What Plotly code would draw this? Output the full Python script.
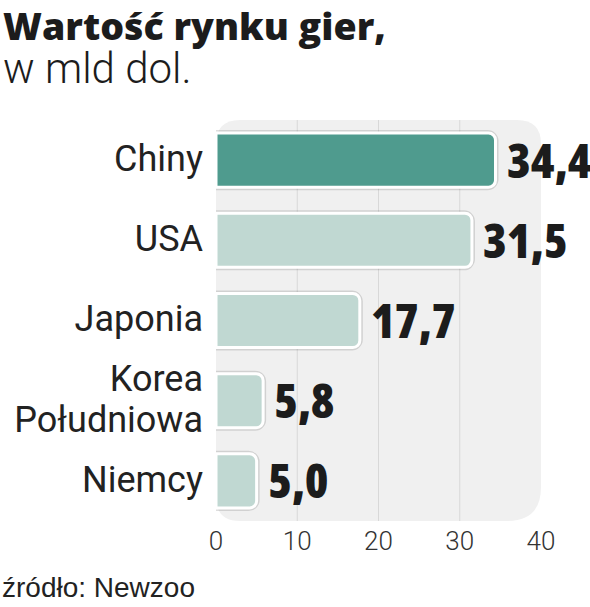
import plotly.graph_objects as go

# ---- data ----
categories = ["Chiny", "USA", "Japonia", "Korea<br>Południowa", "Niemcy"]
values = [34.4, 31.5, 17.7, 5.8, 5.0]
value_labels = ["34,4", "31,5", "17,7", "5,8", "5,0"]
x_ticks = [0, 10, 20, 30, 40]
grid_values = [10, 20, 30]
highlight = "Chiny"
title_text = "Wartość rynku gier,"
subtitle_text = "w mld dol."
source_text = "źródło: Newzoo"

# ---- layout geometry ----
W, H = 590, 607
ML, MR, MT, MB = 216, 49, 120, 86
PW = W - ML - MR
PH = H - MT - MB


def px_x(px):
    return (px - ML) / PW


def px_y(py):
    return 1 - (py - MT) / PH


dark = "#4f9b8e"
light = "#c0d8d2"
colors = [dark if c == highlight else light for c in categories]
BAR_W = 0.675

fig = go.Figure()

# soft shadow halo under bars
fig.add_trace(go.Bar(
    x=values, y=categories, orientation="h",
    marker=dict(color="rgba(0,0,0,0)", line=dict(color="rgba(0,0,0,0.13)", width=6), cornerradius=8),
    width=BAR_W, hoverinfo="skip",
))
fig.add_trace(go.Bar(
    x=values, y=categories, orientation="h",
    marker=dict(color=colors, line=dict(color="white", width=3), cornerradius=7),
    width=BAR_W, hoverinfo="skip",
))

# value labels (heavy condensed)
for v, c, lab in zip(values, categories, value_labels):
    fig.add_annotation(
        x=v, y=c, text=f"<span style='font-stretch:condensed'>{lab}</span>",
        xanchor="left", yanchor="middle", xshift=9, yshift=1,
        showarrow=False,
        font=dict(family="Open Sans, sans-serif", size=48, weight=800, color="#1c1c1c"),
    )

# rounded background panel
R1, R2 = 24, 34
rx1, ry1 = R1 / PW, R1 / PH
rx2, ry2 = R2 / PW, R2 / PH
path = (f"M {rx1},1 L {1-rx1},1 Q 1,1 1,{1-ry1} L 1,{ry2} Q 1,0 {1-rx2},0 "
        f"L {rx1},0 Q 0,0 0,{ry1} L 0,{1-ry1} Q 0,1 {rx1},1 Z")
fig.add_shape(type="path", path=path, xref="paper", yref="paper",
              fillcolor="#f0f0f0", line=dict(width=0), layer="below")

for g in grid_values:
    fig.add_shape(type="line", x0=g, x1=g, xref="x", yref="paper", y0=0, y1=1,
                  line=dict(color="#d8d8d8", width=1), layer="below")

# category tick text with tighter line spacing
ticktext = ["<br>".join(f"<span style='font-size:36px'>{p}</span>" for p in c.split("<br>"))
            for c in categories]

fig.update_yaxes(
    tickvals=categories, ticktext=ticktext, autorange="reversed",
    showgrid=False, zeroline=False, showline=False,
    tickfont=dict(family="Roboto, sans-serif", size=31, color="#222222"),
    ticklabelstandoff=12, fixedrange=True,
)
fig.update_xaxes(
    range=[0, 40], tickvals=x_ticks, showgrid=False, zeroline=False, showline=False,
    tickfont=dict(family="Roboto, sans-serif", size=26, color="#333333", weight=300),
    ticklabelstandoff=2, fixedrange=True,
)

# titles
fig.add_annotation(xref="paper", yref="paper", x=px_x(1), y=px_y(25), xanchor="left",
                   yanchor="middle", showarrow=False, text=title_text,
                   font=dict(family="Open Sans, sans-serif", size=37.5, color="#1c1c1c", weight=800))
fig.add_annotation(xref="paper", yref="paper", x=px_x(1), y=px_y(68), xanchor="left",
                   yanchor="middle", showarrow=False, text=subtitle_text,
                   font=dict(family="Roboto, sans-serif", size=42, color="#1c1c1c", weight=300))
fig.add_annotation(xref="paper", yref="paper", x=px_x(0), y=px_y(587), xanchor="left",
                   yanchor="middle", showarrow=False, text=source_text,
                   font=dict(family="Liberation Sans, Arial, sans-serif", size=28, color="#222222"))

fig.update_layout(
    width=W, height=H, margin=dict(l=ML, r=MR, t=MT, b=MB, autoexpand=False),
    paper_bgcolor="white", plot_bgcolor="rgba(0,0,0,0)",
    showlegend=False, barmode="overlay",
)

fig.write_html("out.html", config={"displayModeBar": False},
               post_script="document.body.style.margin='0';")
